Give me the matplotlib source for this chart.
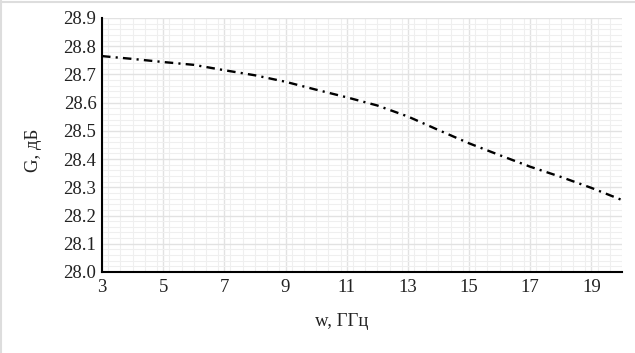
import matplotlib
matplotlib.use("Agg")
import matplotlib.pyplot as plt
from matplotlib.ticker import MultipleLocator
from matplotlib.lines import Line2D

# Data
freq_ghz = [3, 4, 5, 6, 7, 8, 9, 10, 11, 12, 13, 14, 15, 16, 17, 18, 19, 20]
gain_db = [28.765, 28.755, 28.744, 28.734, 28.715, 28.697, 28.674, 28.646, 28.619, 28.590,
           28.551, 28.503, 28.456, 28.414, 28.373, 28.337, 28.298, 28.255]

x_ticks = [3, 5, 7, 9, 11, 13, 15, 17, 19]
y_ticks = [28.0, 28.1, 28.2, 28.3, 28.4, 28.5, 28.6, 28.7, 28.8, 28.9]

plt.rcParams['font.family'] = ['Liberation Serif', 'DejaVu Serif']

fig = plt.figure(figsize=(6.35, 3.53), dpi=100)
W, H = 635, 353
ax = fig.add_axes([102 / W, 1 - 272 / H, (622 - 102) / W, (272 - 18) / H])

ax.plot(freq_ghz, gain_db, color='black', linewidth=1.7,
        dashes=(3.6, 2.2, 0.9, 2.2))

ax.set_xlim(3, 20)
ax.set_ylim(28.0, 28.9)
ax.set_xticks(x_ticks)
ax.set_yticks(y_ticks)
ax.set_yticklabels([f"{v:.1f}" for v in y_ticks])
ax.xaxis.set_minor_locator(MultipleLocator(0.4))
ax.yaxis.set_minor_locator(MultipleLocator(0.02))
ax.grid(which='major', color='#e2e2e2', linewidth=1.0)
ax.grid(which='minor', color='#efefef', linewidth=0.8)
ax.set_axisbelow(True)
ax.tick_params(which='both', length=0, labelsize=13.5, colors='#222222', pad=4)
ax.tick_params(axis='x', pad=5)
for s in ['top', 'right']:
    ax.spines[s].set_visible(False)
for s in ['left', 'bottom']:
    ax.spines[s].set_color('black')
    ax.spines[s].set_linewidth(1.5)

fig.text(342 / W, 1 - 322 / H, 'w, ГГц', ha='center', va='center', fontsize=13.5, color='#222222')
fig.text(33 / W, 1 - 150 / H, 'G, дБ', ha='center', va='center', rotation=90, fontsize=13.5, color='#222222')

# light frame on top and left edges
fig.add_artist(Line2D([0.5 / W, 0.5 / W], [0, 1 - 1 / H], transform=fig.transFigure, color='#dddddd', linewidth=1.5))
fig.add_artist(Line2D([0, 1], [1 - 1.5 / H, 1 - 1.5 / H], transform=fig.transFigure, color='#dddddd', linewidth=1.5))

fig.savefig('out.png', dpi=100)
